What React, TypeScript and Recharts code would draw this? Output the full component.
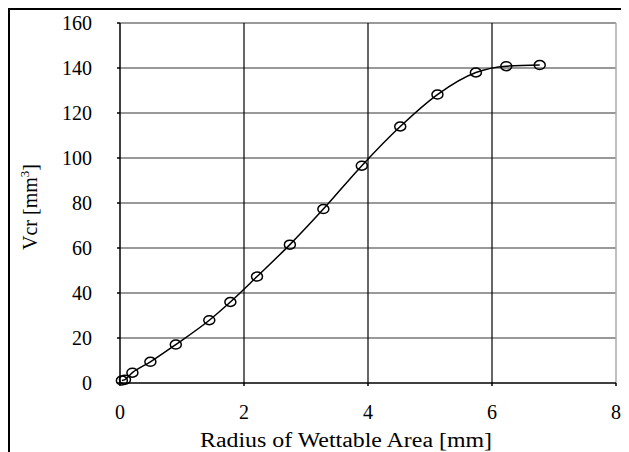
import React from "react";
import {
  LineChart, Line, XAxis, YAxis, CartesianGrid, ReferenceLine,
} from "recharts";

// 読み取り値
const radius = [0.03, 0.08, 0.2, 0.49, 0.9, 1.44, 1.78, 2.21, 2.74, 3.28, 3.9, 4.52, 5.12, 5.74, 6.23, 6.77];
const vcr = [1.1, 1.5, 4.6, 9.4, 17.1, 27.9, 36.0, 47.3, 61.5, 77.3, 96.6, 114.0, 128.2, 138.0, 140.8, 141.3];
const xTicks = [0, 2, 4, 6, 8];
const yTicks = [0, 20, 40, 60, 80, 100, 120, 140, 160];

const data = radius.map((r, i) => ({ r, v: vcr[i] }));

const FONT = "Liberation Serif";

const Oval = (props: any) => {
  const { cx, cy, index } = props;
  if (cx == null || cy == null) return null;
  return <ellipse key={index} cx={cx} cy={cy} rx={5.5} ry={4.5} fill="none" stroke="#000" strokeWidth={1.5} />;
};

const YLabel = (props: any) => {
  const vb = props.viewBox || {};
  const cy = vb.y + vb.height / 2 + 4;
  const x = 27;
  return (
    <text
      x={x}
      y={cy}
      transform={`rotate(-90 ${x} ${cy})`}
      textAnchor="middle"
      style={{ fontFamily: FONT, fontSize: 20 }}
      fill="#000"
    >
      <tspan>Vcr  [mm</tspan>
      <tspan dy={-8} style={{ fontSize: 13 }}>3</tspan>
      <tspan dy={8}>]</tspan>
    </text>
  );
};

const XLabel = (props: any) => {
  const vb = props.viewBox || {};
  const cx = vb.x + vb.width / 2 - 22;
  return (
    <text
      x={cx}
      y={vb.y + 64}
      textAnchor="middle"
      textLength={292}
      lengthAdjust="spacingAndGlyphs"
      style={{ fontFamily: FONT, fontSize: 20 }}
      fill="#000"
    >
      Radius of Wettable Area [mm]
    </text>
  );
};

export default function App() {
  return (
    <div
      style={{
        width: 621,
        height: 444,
        boxSizing: "border-box",
        borderTop: "2px solid #000",
        borderLeft: "2px solid #000",
        background: "#fff",
        overflow: "hidden",
        fontFamily: FONT,
      }}
    >
      <style>{"html,body{overflow:hidden} .recharts-cartesian-axis-tick-value{font-family:'Liberation Serif',serif}"}</style>
      <LineChart width={619} height={442} data={data} margin={{ top: 13, right: 13, left: 0, bottom: 29 }}>
        <CartesianGrid horizontal={true} vertical={false} horizontalValues={[20, 40, 60, 80, 100, 120, 140, 160]} stroke="#777" strokeWidth={1.5} />
        <CartesianGrid horizontal={false} vertical={true} verticalValues={[2, 4, 6]} stroke="#000" strokeWidth={1.2} />
        <ReferenceLine x={8} stroke="#aaa" strokeWidth={1.5} />
        <XAxis
          type="number"
          dataKey="r"
          domain={[0, 8]}
          ticks={xTicks}
          height={40}
          axisLine={{ stroke: "#000", strokeWidth: 1.5 }}
          tickLine={{ stroke: "#000", strokeWidth: 1.5 }}
          tickSize={3}
          tickMargin={19}
          tick={{ fill: "#000", fontSize: 20, fontFamily: FONT }}
          label={<XLabel />}
        />
        <YAxis
          type="number"
          domain={[0, 160]}
          ticks={yTicks}
          width={110}
          axisLine={{ stroke: "#000", strokeWidth: 1.5 }}
          tickLine={{ stroke: "#000", strokeWidth: 1.5 }}
          tickSize={3}
          tickMargin={25}
          tick={{ fill: "#000", fontSize: 20, fontFamily: FONT }}
          label={<YLabel />}
        />
        <Line
          type="monotone"
          dataKey="v"
          stroke="#000"
          strokeWidth={1.5}
          dot={<Oval />}
          isAnimationActive={false}
        />
      </LineChart>
    </div>
  );
}
